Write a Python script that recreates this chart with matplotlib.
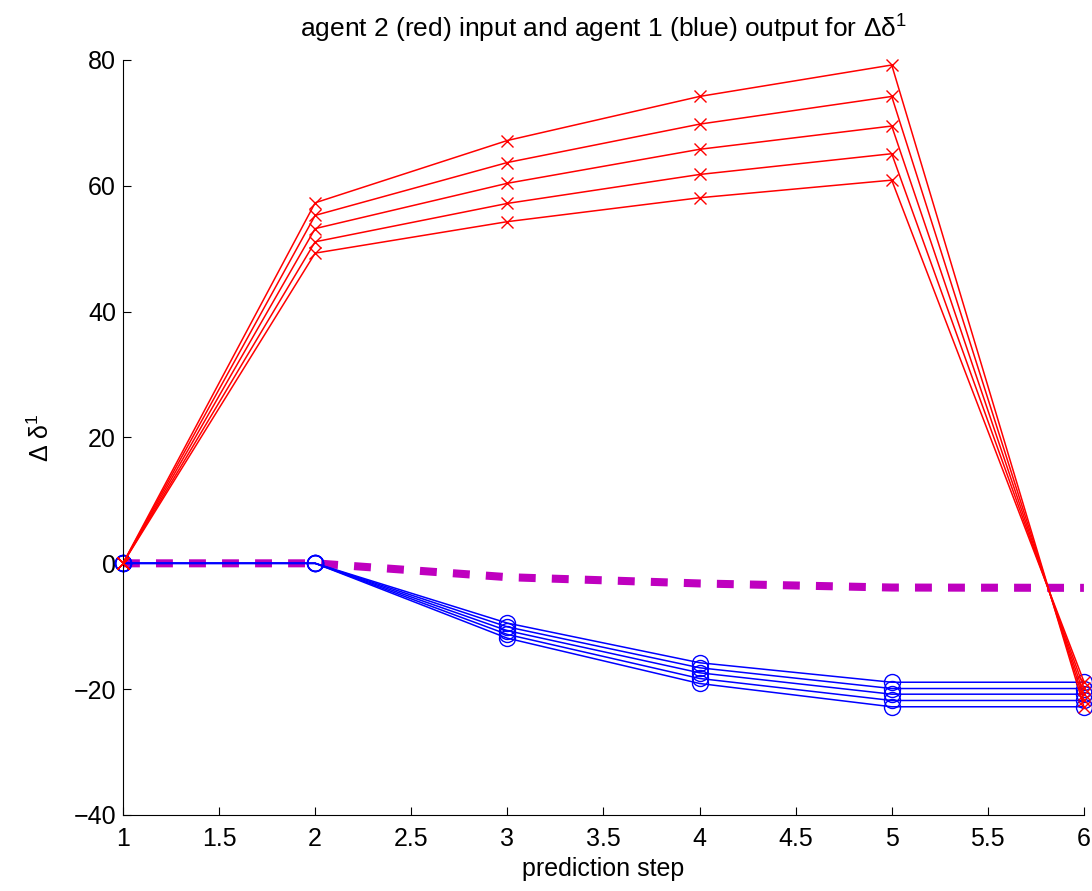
import matplotlib

matplotlib.use("Agg")
import numpy as np
from matplotlib import pyplot as plt

plt.rcParams["font.family"] = ["Liberation Sans", "DejaVu Sans"]
plt.rcParams["mathtext.fontset"] = "custom"
plt.rcParams["mathtext.rm"] = "Liberation Sans"
plt.rcParams["mathtext.it"] = "Liberation Sans:italic"

steps = [1, 2, 3, 4, 5, 6]

# agent 2 input (red), one list per trajectory
red_series = [
    [0, 49.3, 54.3, 58.1, 60.9, -18.8],
    [0, 51.1, 57.2, 61.8, 65.1, -19.8],
    [0, 53.2, 60.4, 65.8, 69.5, -20.8],
    [0, 55.3, 63.7, 69.8, 74.2, -21.8],
    [0, 57.3, 67.2, 74.2, 79.2, -22.8],
]

# agent 1 output (blue)
blue_series = [
    [0, 0, -9.5, -15.8, -18.9, -18.9],
    [0, 0, -10.1, -16.6, -19.9, -19.9],
    [0, 0, -10.7, -17.4, -20.8, -20.8],
    [0, 0, -11.3, -18.3, -21.8, -21.8],
    [0, 0, -11.9, -19.1, -22.8, -22.8],
]

# dashed magenta reference
magenta_values = [0, 0, -2.2, -3.2, -3.85, -3.9]

x_ticks = [1, 1.5, 2, 2.5, 3, 3.5, 4, 4.5, 5, 5.5, 6]
x_tick_labels = ["1", "1.5", "2", "2.5", "3", "3.5", "4", "4.5", "5", "5.5", "6"]
y_ticks = [-40, -20, 0, 20, 40, 60, 80]

fig = plt.figure(figsize=(10.92, 8.91), dpi=100)
ax = fig.add_axes([0.1126, 0.0853, 0.8800, 0.8474])

ax.plot(
    steps,
    magenta_values,
    color="#bf00bf",
    linewidth=5.8,
    linestyle=(0, (2.1, 2.0)),
    dash_capstyle="butt",
    zorder=1,
)

for values in blue_series:
    ax.plot(
        steps,
        values,
        color="#0000ff",
        linewidth=1.1,
        marker="o",
        markersize=11.5,
        markerfacecolor="none",
        markeredgewidth=1.0,
        clip_on=False,
        zorder=2,
    )

for values in red_series:
    ax.plot(
        steps,
        values,
        color="#ff0000",
        linewidth=1.1,
        marker="x",
        markersize=8.5,
        markeredgewidth=1.0,
        clip_on=False,
        zorder=3,
    )

ax.set_xlim(1, 6)
ax.set_ylim(-40, 80)
ax.set_xticks(x_ticks)
ax.set_xticklabels(x_tick_labels)
ax.set_yticks(y_ticks)
ax.tick_params(direction="in", length=6, width=0.8, labelsize=18, pad=5)
ax.tick_params(axis="x", pad=9)

ax.spines["top"].set_visible(False)
ax.spines["right"].set_visible(False)
ax.spines["left"].set_linewidth(0.8)
ax.spines["bottom"].set_linewidth(0.8)

ax.set_title(r"agent 2 (red) input and agent 1 (blue) output for $\mathrm{\Delta\delta^1}$",
             fontsize=19, pad=16)
ax.set_xlabel("prediction step", fontsize=18, labelpad=4)
ax.set_ylabel(r"$\mathrm{\Delta\ \delta^1}$", fontsize=18, labelpad=14)

fig.savefig("out.png", dpi=100)
